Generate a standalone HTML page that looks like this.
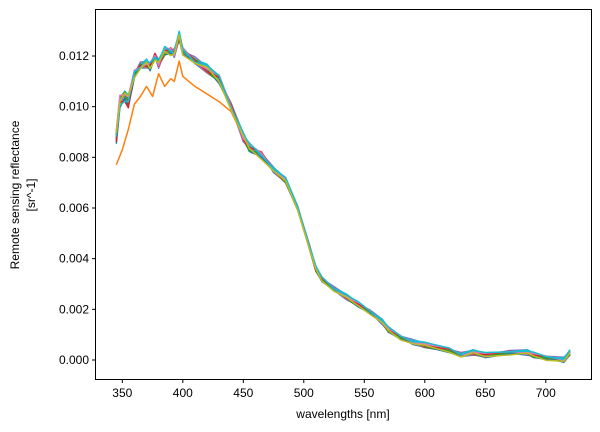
<!DOCTYPE html>
<html><head><style>body{margin:0;background:#fff}svg{display:block}text{font-family:"Liberation Sans","DejaVu Sans",sans-serif;font-size:12px;fill:#000}</style></head>
<body>
<svg id="s" width="600" height="432" xmlns="http://www.w3.org/2000/svg">
<g id="lines"></g>
<rect x="95.5" y="9.5" width="496" height="370" fill="none" stroke="#000" stroke-width="1"/>
<g id="ticks"></g>
<text x="343" y="418" text-anchor="middle">wavelengths [nm]</text>
<text transform="translate(19,195) rotate(-90)" text-anchor="middle">Remote sensing reflectance</text>
<text transform="translate(35,195) rotate(-90)" text-anchor="middle">[sr^-1]</text>
</svg>
<script>
const X=w=>122.3+(w-350)*1.21, Y=v=>360-v*25333;
const base=[[345,.0088],[348,.0102],[352,.0104],[355,.0102],[360,.0113],[365,.0116],[370,.0117],[373,.0116],[377,.0120],[380,.0117],[385,.0122],[390,.0122],[393,.0121],[397,.0128],[400,.0122],[410,.0118],[420,.0115],[430,.0111],[440,.0100],[450,.0088],[455,.0084],[465,.0081],[475,.0075],[485,.0071],[495,.0060],[505,.0044],[510,.0036],[515,.0032],[525,.0028],[535,.0025],[545,.0022],[555,.0019],[565,.0015],[570,.0012],[580,.0009],[590,.0007],[600,.0006],[620,.0004],[630,.0002],[640,.0003],[650,.0002],[670,.0003],[685,.0003],[690,.0002],[700,.0001],[715,.0000],[720,.0003]];
const orange=[[345,.0077],[350,.0083],[355,.0091],[360,.0101],[365,.0104],[370,.0108],[375,.0104],[380,.0113],[385,.0108],[390,.0111],[393,.0110],[397,.0118],[400,.0112],[410,.0108],[420,.0105],[430,.0102],[440,.0098]].concat(base.filter(p=>p[0]>=450));
const cols=["#1f77b4","#ff7f0e","#2ca02c","#d62728","#9467bd","#8c564b","#e377c2","#7f7f7f","#bcbd22","#17becf","#1f77b4","#2ca02c","#d62728","#e377c2","#17becf","#bcbd22"];
let h="";
cols.forEach((c,i)=>{
 const pts=(i==1?orange:base).map(([w,v],k)=>{
  let d=i==1?0:(Math.sin(i*7.3+k*1.9)*0.00012*(v>0.008?1:0.4)+((i%5)-2)*0.00003);
  if(w<360&&i!=1)d+=Math.sin(i*3.1)*0.0003;
  return X(w).toFixed(1)+","+Y(v+d).toFixed(1);}).join(" ");
 h+=`<polyline points="${pts}" fill="none" stroke="${c}" stroke-width="1.5" stroke-linejoin="round"/>`;
});
document.getElementById("lines").innerHTML=h;
let t="";
for(let w=350;w<=700;w+=50){const x=X(w);t+=`<line x1="${x}" y1="379.5" x2="${x}" y2="383" stroke="#000"/><text x="${x}" y="397" text-anchor="middle">${w}</text>`;}
for(let v=0;v<=0.012;v+=0.002){const y=Y(v);t+=`<line x1="92" y1="${y}" x2="95.5" y2="${y}" stroke="#000"/><text x="89" y="${y+4}" text-anchor="end">${v.toFixed(3)}</text>`;}
document.getElementById("ticks").innerHTML=t;
</script>
</body></html>
